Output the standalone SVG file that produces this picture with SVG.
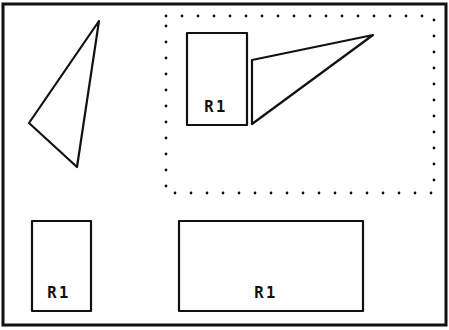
<svg xmlns="http://www.w3.org/2000/svg" width="449" height="330" viewBox="0 0 449 330">
<style>
.s{fill:none;stroke:#111;stroke-width:2.2;stroke-linejoin:round}
.dot{fill:none;stroke:#111;stroke-width:2.8;stroke-dasharray:0 16;stroke-linecap:round}
.t{font-family:"DejaVu Sans Mono","Liberation Mono",monospace;font-size:15.5px;font-weight:bold;fill:#111;text-anchor:middle;letter-spacing:2.5px}
</style>
<rect width="449" height="330" fill="#fff"/>
<rect id="frame" x="3" y="4" width="443" height="321" fill="none" stroke="#111" stroke-width="3"/>
<g id="tri1"><polygon class="s" points="99,21 29,123 77,167"/></g>
<g id="group-box"><rect class="dot" x="166" y="16" width="268" height="177"/></g>
<g id="rect1"><rect class="s" x="187" y="33" width="60" height="92"/><text class="t" x="216" y="112">R1</text></g>
<g id="tri2"><polygon class="s" points="252,60 373,35 252,124"/></g>
<g id="rect2"><rect class="s" x="32" y="221" width="59" height="90"/><text class="t" x="59" y="298">R1</text></g>
<g id="rect3"><rect class="s" x="179" y="221" width="184" height="90"/><text class="t" x="266" y="298">R1</text></g>
</svg>
